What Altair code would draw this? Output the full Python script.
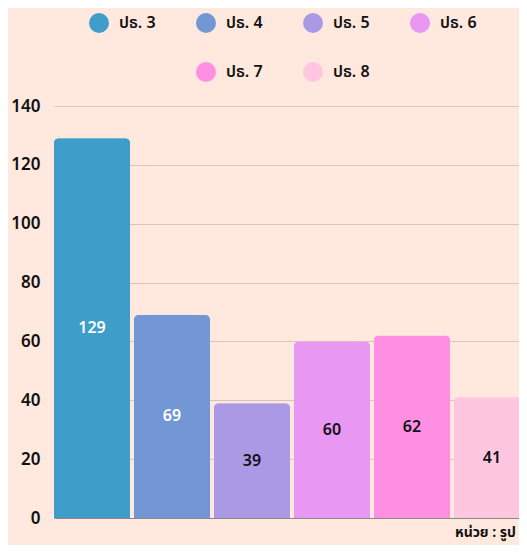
import altair as alt
import pandas as pd

grades = ["ปธ. 3", "ปธ. 4", "ปธ. 5", "ปธ. 6", "ปธ. 7", "ปธ. 8"]
counts = [129, 69, 39, 60, 62, 41]
colors = ["#3E9DC9", "#7396D4", "#AB99E6", "#E898F2", "#FF8FE2", "#FFC6E0"]

df = pd.DataFrame({"grade": grades, "value": counts})

FONT = "Noto Sans Thai, Noto Sans, Liberation Sans, sans-serif"

x_enc = alt.X("grade:N", sort=grades, title=None,
              scale=alt.Scale(range=[0, 476], paddingInner=0.05, paddingOuter=0),
              axis=alt.Axis(labels=False, ticks=False, domain=True, domainColor="#8a8a8a",
                            grid=False, title=None))
y_enc = alt.Y("value:Q", title=None,
              scale=alt.Scale(domain=[0, 140]),
              axis=alt.Axis(values=[0, 20, 40, 60, 80, 100, 120, 140], domain=False, ticks=False,
                            labelPadding=14, labelFontSize=17, labelFontWeight=600,
                            labelColor="#111", labelFont=FONT,
                            gridColor="#D8C4BA", gridWidth=1))

def bar_layer(values, lx, ly, cols):
    return alt.Chart(df).mark_bar(cornerRadiusTopLeft=5, cornerRadiusTopRight=5).encode(
        x=x_enc,
        y=y_enc,
        color=alt.Color("grade:N", sort=grades,
                        scale=alt.Scale(domain=grades, range=colors),
                        legend=alt.Legend(orient="none", legendX=lx, legendY=ly, title=None,
                                          values=values, columns=cols, direction="horizontal",
                                          symbolType="circle", symbolSize=400,
                                          symbolStrokeWidth=0, labelFontSize=16,
                                          labelFontWeight=600, labelFont=FONT,
                                          labelColor="#111", labelOffset=10,
                                          columnPadding=40, gridAlign="all", padding=0)),
    )

bars1 = bar_layer(grades[:4], 35, -93, 4)
bars2 = bar_layer(grades[4:], 142, -44, 2)

labels = alt.Chart(df).transform_calculate(mid="datum.value / 2").mark_text(
    fontSize=16, fontWeight=600, font=FONT, baseline="middle"
).encode(
    x=alt.X("grade:N", sort=grades),
    y=alt.Y("mid:Q"),
    text=alt.Text("value:Q"),
    color=alt.condition("indexof(['ปธ. 3','ปธ. 4'], datum.grade) >= 0",
                        alt.value("white"), alt.value("#111")),
)

chart = alt.layer(bars1, bars2, labels).resolve_scale(color="independent").properties(
    width=465, height=412,
    autosize=alt.AutoSizeParams(type="none"),
    padding={"left": 46, "top": 98, "right": 0, "bottom": 27},
    background="#FFE8DE",
    title=alt.TitleParams("หน่วย : รูป", orient="bottom", anchor="end", dx=-14, offset=0,
                          fontSize=14, fontWeight=700, font=FONT, color="#111"),
).configure_view(stroke=None)

chart.save("out.html", embed_options={"renderer": "svg", "actions": False})
